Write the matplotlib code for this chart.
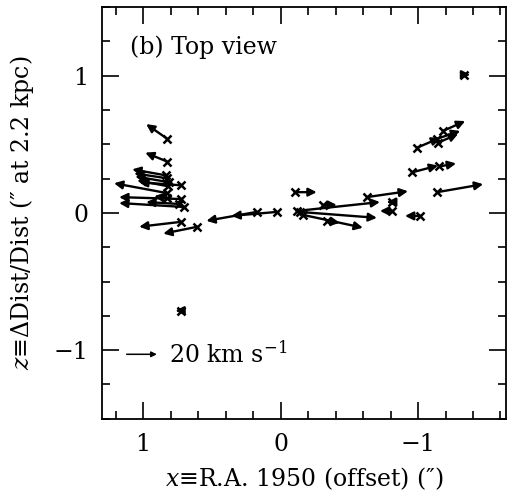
import matplotlib
matplotlib.use('Agg')
import matplotlib.pyplot as plt
from matplotlib.ticker import MultipleLocator

plt.rcParams['font.family'] = ['DejaVu Serif']
plt.rcParams['mathtext.fontset'] = 'dejavuserif'

# tail positions (x = RA offset, z) and arrow tips, in arcsec
tail_x = [0.825, 0.825, 0.832, 0.825, 0.810, 0.818, 0.723, 0.825, 0.723, 0.701,
          0.825, 0.737, 0.723, 0.606, 0.723, -0.102, 0.175, 0.029, -0.117, -0.307,
          -0.628, -0.139, -0.161, -0.336, -0.810, -0.810, -1.015, -1.336, -1.182, -0.993,
          -1.139, -1.146, -0.956, -1.153, -1.139]
tail_z = [0.540, 0.374, 0.273, 0.252, 0.223, 0.194, 0.201, 0.144, 0.101, 0.043,
          0.108, 0.065, -0.065, -0.101, -0.712, 0.151, 0.007, 0.007, 0.014, 0.058,
          0.115, 0.007, -0.014, -0.058, 0.079, 0.014, -0.022, 1.007, 0.597, 0.475,
          0.540, 0.511, 0.295, 0.338, 0.151]
head_x = [0.978, 0.985, 1.080, 1.066, 1.058, 1.044, 1.029, 1.212, 1.175, 1.175,
          0.920, 0.978, 1.029, 0.854, 0.766, -0.263, 0.540, 0.358, -0.723, -0.409,
          -0.927, -0.701, -0.599, -0.431, -0.774, -0.723, -0.905, -1.380, -1.343, -1.161,
          -1.307, -1.292, -1.146, -1.277, -1.474]
head_z = [0.647, 0.439, 0.317, 0.288, 0.266, 0.237, 0.223, 0.216, 0.115, 0.072,
          0.122, 0.079, -0.101, -0.151, -0.712, 0.151, -0.058, -0.022, 0.079, 0.058,
          0.158, -0.036, -0.108, -0.072, 0.079, 0.014, -0.022, 1.007, 0.669, 0.547,
          0.597, 0.576, 0.345, 0.360, 0.209]

# scale arrow: 20 km/s
key_x = [1.12, 0.90]
key_z = -1.03

fig = plt.figure(figsize=(5.07, 4.98), dpi=100)
ax = fig.add_axes([0.201, 0.159, 0.797, 0.827])

for x0, z0, x1, z1 in zip(tail_x, tail_z, head_x, head_z):
    ax.annotate('', xy=(x1, z1), xytext=(x0, z0),
                arrowprops=dict(arrowstyle='-|>', lw=1.7, color='black',
                                mutation_scale=12, shrinkA=0, shrinkB=0))
ax.plot(tail_x, tail_z, 'x', color='black', ms=5.5, mew=1.8)

ax.annotate('', xy=(key_x[1], key_z), xytext=(key_x[0], key_z),
            arrowprops=dict(arrowstyle='-|>', lw=1.1, color='black',
                            mutation_scale=8, shrinkA=0, shrinkB=0))
ax.text(0.81, key_z, r'20 km s$^{-1}$', fontsize=17, va='center', ha='left')
ax.text(0.07, 0.903, '(b) Top view', transform=ax.transAxes, fontsize=17,
        va='center', ha='left')

ax.set_xlim(1.3, -1.64)
ax.set_ylim(-1.5, 1.5)
ax.xaxis.set_major_locator(MultipleLocator(1))
ax.xaxis.set_minor_locator(MultipleLocator(0.2))
ax.yaxis.set_major_locator(MultipleLocator(1))
ax.yaxis.set_minor_locator(MultipleLocator(0.25))
ax.tick_params(which='both', direction='in', top=True, right=True,
               labelsize=17, width=1.2, pad=10)
ax.tick_params(which='major', length=12)
ax.tick_params(which='minor', length=6)
for s in ax.spines.values():
    s.set_linewidth(1.3)

ax.set_xlabel(r'$x$' + '≡R.A. 1950 (offset) (″)', fontsize=17, labelpad=7)
ax.set_ylabel(r'$z$' + '≡ΔDist/Dist (″ at 2.2 kpc)', fontsize=17, labelpad=12)

fig.savefig('out.png', dpi=100)
